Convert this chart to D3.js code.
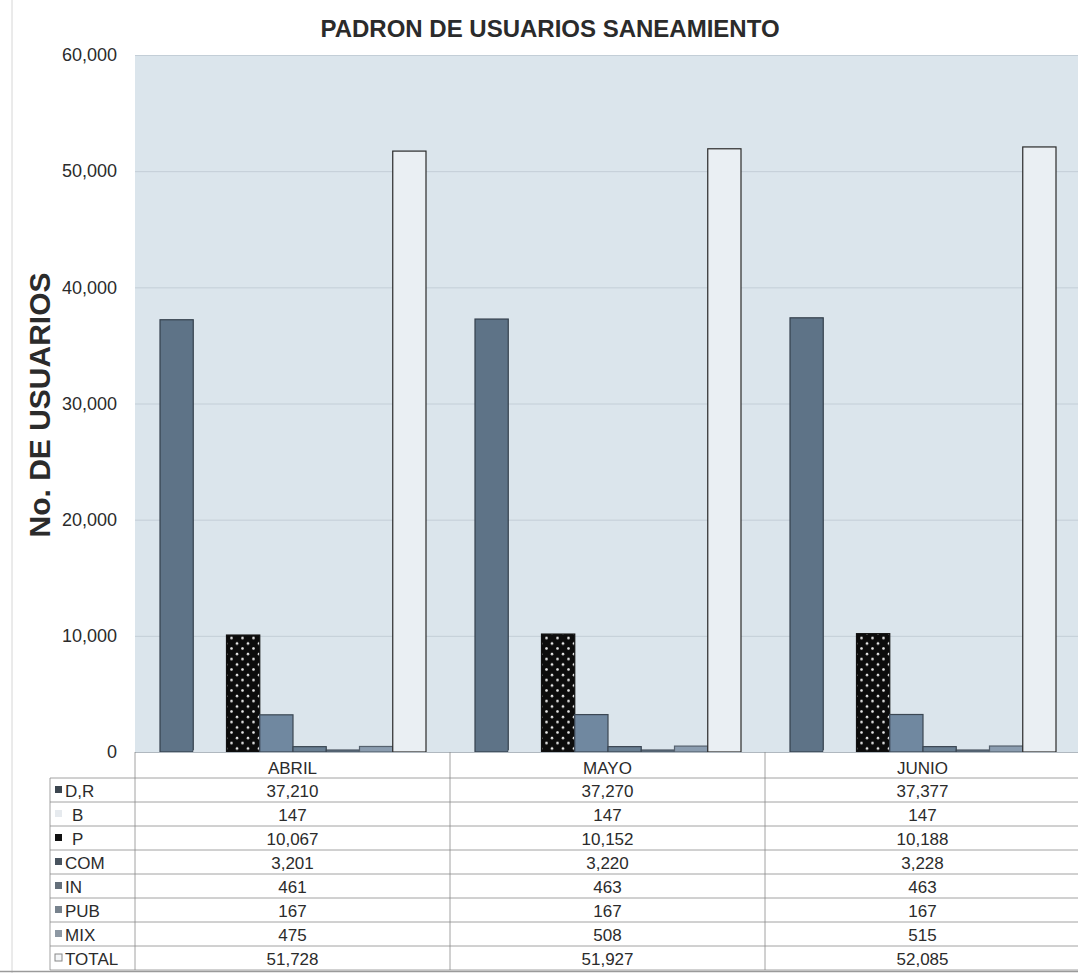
<!DOCTYPE html>
<html>
<head>
<meta charset="utf-8">
<script src="https://cdn.jsdelivr.net/npm/d3@7"></script>
<style>
	body { margin: 0; background: #ffffff; }
	text { font-family: "Liberation Sans", Arial, sans-serif; fill: #2b2b2b; }
</style>
</head>
<body>
<div id="svg-div"></div>
<script>
// Data
var months = ["ABRIL", "MAYO", "JUNIO"];
var seriesNames = ["D,R", "B", "P", "COM", "IN", "PUB", "MIX", "TOTAL"];
var valuesDR = [37210, 37270, 37377];
var valuesB = [147, 147, 147];
var valuesP = [10067, 10152, 10188];
var valuesCOM = [3201, 3220, 3228];
var valuesIN = [461, 463, 463];
var valuesPUB = [167, 167, 167];
var valuesMIX = [475, 508, 515];
var valuesTOTAL = [51728, 51927, 52085];
var yTicks = [0, 10000, 20000, 30000, 40000, 50000, 60000];

var seriesValues = [valuesDR, valuesB, valuesP, valuesCOM, valuesIN, valuesPUB, valuesMIX, valuesTOTAL];

// styles per series (fill, stroke, legend key)
var barFill = ["#5e7387", "#dce5ec", "url(#dots)", "#7088a0", "#687e92", "#7a8fa2", "#8b9db0", "#eaeff3"];
var barStroke = ["#34404c", "none", "#111", "#3b4753", "#3b4753", "#3b4753", "#56626e", "#2a2a2a"];
var keyFill = ["#3c4650", "#e6eaee", "#111111", "#49545f", "#646f7a", "#77828d", "#8d98a3", "#f4f6f8"];

var chartProperties = {
	width: 1078,
	height: 973,
	plotLeft: 135,
	plotRight: 1080,
	plotTop: 55,
	plotBottom: 752,
	headerBottom: 778,
	rowHeight: 24,
	legendLeft: 50
};

var svg = d3.select("#svg-div")
	.append("svg")
	.attr("width", chartProperties.width)
	.attr("height", chartProperties.height);

// dotted pattern for P bars
var defs = svg.append("defs");
var pat = defs.append("pattern")
	.attr("id", "dots")
	.attr("patternUnits", "userSpaceOnUse")
	.attr("width", 11)
	.attr("height", 10.5);
pat.append("rect").attr("width", 11).attr("height", 10.5).attr("fill", "#0c0c0c");
pat.append("circle").attr("cx", 3).attr("cy", 3).attr("r", 1.3).attr("fill", "#e8e8e8");
pat.append("circle").attr("cx", 8.5).attr("cy", 8).attr("r", 1.3).attr("fill", "#e8e8e8");

// page edge line of the scan
svg.append("line")
	.attr("x1", 12).attr("x2", 12)
	.attr("y1", 0).attr("y2", 973)
	.attr("stroke", "#d6d6d6");

// Scales
var yScale = d3.scaleLinear()
	.domain([0, 60000])
	.range([chartProperties.plotBottom, chartProperties.plotTop]);

var x0 = d3.scaleBand()
	.domain(months)
	.range([chartProperties.plotLeft, chartProperties.plotLeft + 315 * months.length]);

var x1 = d3.scaleBand()
	.domain(seriesNames)
	.range([25, 291]);

// Plot background
svg.append("rect")
	.attr("x", chartProperties.plotLeft)
	.attr("y", chartProperties.plotTop)
	.attr("width", chartProperties.plotRight - chartProperties.plotLeft)
	.attr("height", chartProperties.plotBottom - chartProperties.plotTop)
	.attr("fill", "#dbe5ec");

// Gridlines
var gridlines = d3.axisLeft()
	.scale(yScale)
	.tickValues(yTicks)
	.tickFormat("")
	.tickSize(-(chartProperties.plotRight - chartProperties.plotLeft));

svg.append("g")
	.attr("transform", "translate(" + chartProperties.plotLeft + ",0)")
	.call(gridlines)
	.call(function(g) {
		g.select(".domain").remove();
		g.selectAll("line").attr("stroke", "#c3ced7");
	});

// Y axis labels
var yAxis = d3.axisLeft()
	.scale(yScale)
	.tickValues(yTicks)
	.tickSize(0)
	.tickPadding(18)
	.tickFormat(d3.format(","));

svg.append("g")
	.attr("transform", "translate(" + chartProperties.plotLeft + ",0)")
	.call(yAxis)
	.call(function(g) {
		g.select(".domain").remove();
		g.selectAll("text")
			.attr("font-size", 18)
			.attr("font-family", "Liberation Sans, Arial, sans-serif")
			.attr("fill", "#333");
	});

// Bars
var groups = svg.selectAll(".month")
	.data(months)
	.enter()
	.append("g")
	.attr("class", "month")
	.attr("transform", function(d) {
		return "translate(" + x0(d) + ",0)";
	});

groups.selectAll("rect")
	.data(function(m, mi) {
		return seriesNames.map(function(s, si) {
			return { series: s, si: si, value: seriesValues[si][mi] };
		});
	})
	.enter()
	.append("rect")
	.attr("x", function(d) { return x1(d.series); })
	.attr("y", function(d) { return yScale(d.value); })
	.attr("width", x1.bandwidth())
	.attr("height", function(d) { return yScale(0) - yScale(d.value); })
	.attr("fill", function(d) { return barFill[d.si]; })
	.attr("stroke", function(d) { return barStroke[d.si]; })
	.attr("stroke-width", 1.2);

// Title
svg.append("text")
	.attr("x", 550)
	.attr("y", 37)
	.attr("text-anchor", "middle")
	.attr("font-size", 24)
	.attr("font-weight", "bold")
	.attr("fill", "#1a1a1a")
	.text("PADRON DE USUARIOS SANEAMIENTO");

// Y axis title
svg.append("text")
	.attr("transform", "translate(50,405) rotate(-90)")
	.attr("text-anchor", "middle")
	.attr("font-size", 30)
	.attr("font-weight", "bold")
	.attr("fill", "#1a1a1a")
	.text("No. DE USUARIOS");

// Data table
var table = svg.append("g");
var tableRight = chartProperties.plotRight;
var rowY = function(i) { return chartProperties.headerBottom + i * chartProperties.rowHeight; };
var tableBottom = rowY(seriesNames.length);

// horizontal row lines
table.selectAll(".hline")
	.data(d3.range(seriesNames.length + 1))
	.enter()
	.append("line")
	.attr("x1", chartProperties.legendLeft)
	.attr("x2", tableRight)
	.attr("y1", function(i) { return rowY(i); })
	.attr("y2", function(i) { return rowY(i); })
	.attr("stroke", "#8a8a8a")
	.attr("stroke-width", 0.8);

// top line of header
table.append("line")
	.attr("x1", chartProperties.plotLeft).attr("x2", tableRight)
	.attr("y1", chartProperties.plotBottom + 0.5).attr("y2", chartProperties.plotBottom + 0.5)
	.attr("stroke", "#b0b8bf");

// vertical lines
var vLines = [chartProperties.plotLeft].concat(months.slice(1).map(function(m) { return x0(m); }));
table.selectAll(".vline")
	.data(vLines)
	.enter()
	.append("line")
	.attr("x1", function(d) { return d; })
	.attr("x2", function(d) { return d; })
	.attr("y1", chartProperties.plotBottom)
	.attr("y2", tableBottom)
	.attr("stroke", "#8a8a8a")
	.attr("stroke-width", 0.8);

table.append("line")
	.attr("x1", chartProperties.legendLeft).attr("x2", chartProperties.legendLeft)
	.attr("y1", chartProperties.headerBottom).attr("y2", tableBottom)
	.attr("stroke", "#8a8a8a")
	.attr("stroke-width", 0.8);

table.append("line")
	.attr("x1", 0).attr("x2", tableRight)
	.attr("y1", tableBottom + 1.5).attr("y2", tableBottom + 1.5)
	.attr("stroke", "#9a9a9a")
	.attr("stroke-width", 1.5);

// month headers
table.selectAll(".mhead")
	.data(months)
	.enter()
	.append("text")
	.attr("x", function(d) { return x0(d) + x0.bandwidth() / 2; })
	.attr("y", chartProperties.headerBottom - 4)
	.attr("text-anchor", "middle")
	.attr("font-size", 17)
	.text(function(d) { return d; });

// legend keys + names
var legendRows = table.selectAll(".lrow")
	.data(seriesNames)
	.enter()
	.append("g")
	.attr("transform", function(d, i) { return "translate(0," + rowY(i) + ")"; });

legendRows.append("rect")
	.attr("x", 55)
	.attr("y", 8)
	.attr("width", 7)
	.attr("height", 7)
	.attr("fill", function(d, i) { return keyFill[i]; })
	.attr("stroke", function(d, i) { return i === 7 ? "#888" : "none"; });

legendRows.append("text")
	.attr("x", function(d) { return d.length === 1 ? 72 : 65; })
	.attr("y", 19)
	.attr("font-size", 17)
	.text(function(d) { return d; });

// cell values
var fmt = d3.format(",");
legendRows.selectAll(".cell")
	.data(function(d, i) { return seriesValues[i]; })
	.enter()
	.append("text")
	.attr("x", function(d, mi) { return x0(months[mi]) + x0.bandwidth() / 2; })
	.attr("y", 19)
	.attr("text-anchor", "middle")
	.attr("font-size", 17)
	.text(function(d) { return fmt(d); });
</script>
</body>
</html>
